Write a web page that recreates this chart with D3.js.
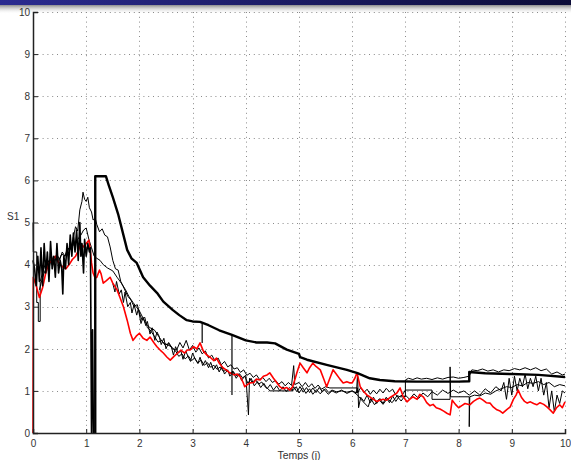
<!DOCTYPE html>
<html lang="fr">

<head>
	<meta charset="UTF-8">
	<script src="https://d3js.org/d3.v7.min.js"></script>
	<title>S1 - Temps</title>
	<style>
		body {
			margin: 0;
			background: white;
			font-family: "Liberation Sans", Arial, sans-serif;
		}

		svg {
			display: block;
		}

		.grid line {
			stroke: #8a8a8a;
			stroke-width: 1px;
			stroke-dasharray: 1, 3.8;
		}

		.tick-label {
			font-size: 10px;
			fill: #333;
		}

		path.serie {
			fill: none;
			stroke-linejoin: round;
		}
	</style>
</head>

<body>
	<script>
		// axis ticks (same 0..10 on both axes)
		const xTicks = [0, 1, 2, 3, 4, 5, 6, 7, 8, 9, 10];
		const yTicks = [0, 1, 2, 3, 4, 5, 6, 7, 8, 9, 10];

		// thick black curve : [temps, S1]
		const serieA = [[1.17, 0], [1.17, 6.1], [1.37, 6.1], [1.42, 5.9], [1.5, 5.6], [1.6, 5.2], [1.7, 4.7],
			[1.77, 4.35], [1.85, 4.15], [1.95, 4.04], [2.07, 3.7], [2.2, 3.5], [2.33, 3.33], [2.45, 3.12],
			[2.63, 2.92], [2.75, 2.8], [2.89, 2.68], [3.0, 2.65], [3.14, 2.64], [3.3, 2.56], [3.5, 2.44],
			[3.74, 2.33], [4.0, 2.2], [4.2, 2.15], [4.4, 2.15], [4.55, 2.13], [4.77, 1.98], [5.0, 1.88],
			[5.02, 1.8], [5.15, 1.74], [5.52, 1.62], [5.9, 1.5], [6.1, 1.42], [6.33, 1.3], [6.52, 1.26],
			[6.8, 1.23], [7.2, 1.22], [7.6, 1.22], [8.0, 1.22], [8.2, 1.23], [8.2, 1.45], [8.5, 1.42],
			[9.0, 1.4], [9.5, 1.38], [10, 1.33]];

		// thin glitches hanging under the thick curve
		const piquesA = [[[3.18, 2.63], [3.18, 2.14]], [[3.74, 2.33], [3.74, 0.9]]];

		// noisy black curve at the start (drops to 0 near t = 1.1)
		const serieD = [[0, 4.1], [0.03, 3.9], [0.06, 3.5], [0.09, 4.2], [0.12, 3.6], [0.15, 4.4], [0.18, 3.5],
			[0.21, 4.5], [0.24, 3.8], [0.27, 4.3], [0.3, 3.6], [0.33, 4.55], [0.36, 3.9], [0.39, 4.2], [0.42, 3.7],
			[0.45, 4.5], [0.48, 3.8], [0.51, 4.1], [0.54, 3.9], [0.56, 3.3], [0.58, 4.2], [0.61, 3.9], [0.64, 4.5],
			[0.67, 4.0], [0.7, 4.7], [0.73, 4.2], [0.76, 4.75], [0.79, 4.3], [0.82, 4.82], [0.85, 4.1], [0.88, 5.0],
			[0.9, 4.2], [0.92, 4.5], [0.95, 3.8], [0.97, 4.6], [1.0, 4.2], [1.03, 4.5], [1.06, 4.3], [1.08, 4.4],
			[1.1, 0], [1.12, 2.45], [1.135, 0]];

		// thin black curve with the 5.7 peak
		const serieB = [[0, 5.0], [0.005, 4.3], [0.07, 4.3], [0.07, 3.1], [0.1, 3.1], [0.1, 2.65], [0.135, 2.65],
			[0.135, 3.6], [0.18, 3.8], [0.25, 4.1], [0.3, 3.9], [0.35, 4.2], [0.4, 4.0], [0.45, 4.25], [0.5, 4.1],
			[0.55, 4.3], [0.6, 4.2], [0.65, 4.4], [0.7, 4.35], [0.75, 4.6], [0.8, 4.9], [0.84, 4.8], [0.88, 5.3],
			[0.92, 5.5], [0.94, 5.72], [0.97, 5.55], [1.0, 5.5], [1.03, 5.6], [1.06, 5.35], [1.1, 5.25], [1.13, 5.06],
			[1.17, 5.1], [1.2, 4.95], [1.25, 4.78], [1.3, 4.85], [1.35, 4.7], [1.4, 4.66], [1.45, 4.42], [1.5, 4.1],
			[1.55, 3.9], [1.6, 3.87], [1.65, 3.6], [1.7, 3.47], [1.78, 3.25], [1.84, 3.16], [1.9, 3.0], [1.96, 3.05],
			[2.0, 2.85], [2.05, 2.68], [2.1, 2.75], [2.15, 2.5], [2.2, 2.45], [2.28, 2.3], [2.35, 2.16], [2.42, 2.2],
			[2.48, 2.09], [2.55, 2.12], [2.62, 2.0], [2.7, 1.97], [2.76, 2.15], [2.82, 2.02], [2.88, 2.2], [2.94, 1.97],
			[3.0, 2.08], [3.06, 1.92], [3.12, 2.02], [3.18, 1.88], [3.24, 1.95], [3.3, 1.78], [3.36, 1.85], [3.42, 1.72],
			[3.48, 1.78], [3.54, 1.62], [3.6, 1.7], [3.66, 1.57], [3.72, 1.62], [3.78, 1.52], [3.84, 1.55], [3.9, 1.44],
			[3.96, 1.5], [4.02, 1.37], [4.08, 1.42], [4.14, 1.32], [4.2, 1.38], [4.26, 1.27], [4.32, 1.32], [4.38, 1.22],
			[4.44, 1.3], [4.5, 1.2], [4.56, 1.25], [4.62, 1.16], [4.68, 1.22], [4.74, 1.12], [4.8, 1.2], [4.86, 1.13],
			[4.9, 1.6], [4.92, 1.15], [5.0, 1.2], [5.06, 1.1], [5.12, 1.2], [5.18, 1.09], [5.24, 1.17], [5.3, 1.06],
			[5.36, 1.14], [5.42, 1.04], [5.5, 1.1], [5.58, 1.07], [6.1, 1.07], [6.1, 0.95], [6.16, 1.08], [6.22, 0.96],
			[6.28, 1.04], [6.34, 0.92], [6.4, 1.02], [6.46, 0.93], [6.52, 1.04], [6.58, 0.95], [6.64, 1.06], [6.7, 0.98],
			[6.76, 1.04], [6.82, 0.9], [6.9, 0.86], [7.0, 0.86], [7.0, 1.26], [7.06, 1.3], [7.14, 1.27], [7.22, 1.31],
			[7.3, 1.28], [7.4, 1.3], [7.5, 1.27], [7.6, 1.31], [7.7, 1.28], [7.8, 1.32], [7.9, 1.33], [8.0, 1.3],
			[8.1, 1.32], [8.2, 1.35], [8.25, 1.5], [8.35, 1.48], [8.45, 1.52], [8.55, 1.47], [8.65, 1.5], [8.75, 1.45],
			[8.85, 1.5], [8.95, 1.48], [9.05, 1.53], [9.15, 1.5], [9.25, 1.55], [9.35, 1.5], [9.45, 1.55], [9.55, 1.48],
			[9.65, 1.52], [9.75, 1.4], [9.85, 1.45], [9.95, 1.38], [10, 1.4]];

		// thin black curve with the 4.9 peak
		const serieC = [[0.12, 3.4], [0.18, 3.7], [0.24, 3.9], [0.3, 4.1], [0.36, 4.0], [0.42, 4.15], [0.48, 4.1],
			[0.54, 4.25], [0.6, 4.2], [0.66, 4.35], [0.72, 4.4], [0.78, 4.5], [0.84, 4.6], [0.9, 4.7], [0.95, 4.82],
			[1.0, 4.87], [1.05, 4.6], [1.1, 4.4], [1.15, 4.2], [1.2, 4.15], [1.26, 4.1], [1.32, 4.0], [1.4, 3.92],
			[1.5, 3.85], [1.58, 3.7], [1.66, 3.56], [1.74, 3.4], [1.8, 3.25], [1.88, 3.1], [1.94, 3.0], [2.0, 2.9],
			[2.06, 2.75], [2.12, 2.6], [2.2, 2.5], [2.28, 2.45], [2.36, 2.3], [2.44, 2.15], [2.52, 2.1], [2.6, 2.05],
			[2.68, 1.95], [2.74, 1.82], [2.8, 1.88], [2.86, 1.76], [2.92, 1.83], [2.98, 1.72], [3.04, 1.78], [3.1, 1.66],
			[3.16, 1.73], [3.22, 1.61], [3.28, 1.67], [3.34, 1.56], [3.4, 1.61], [3.46, 1.51], [3.52, 1.57], [3.58, 1.46],
			[3.64, 1.51], [3.7, 1.41], [3.76, 1.47], [3.82, 1.36], [3.88, 1.41], [3.94, 1.31], [4.0, 1.37], [4.05, 0.43],
			[4.07, 1.3], [4.12, 1.2], [4.18, 1.27], [4.24, 1.16], [4.3, 1.21], [4.36, 1.1], [4.42, 1.05], [4.45, 1.0],
			[4.87, 1.0], [4.9, 1.1], [4.96, 0.98], [5.02, 1.1], [5.08, 0.97], [5.14, 1.08], [5.2, 0.96], [5.26, 1.07],
			[5.32, 0.96], [5.38, 1.08], [5.44, 0.98], [5.5, 1.05], [5.56, 0.96], [5.62, 1.02], [5.7, 0.98], [5.8, 1.0],
			[5.9, 0.97], [6.0, 1.0], [6.08, 0.95], [6.1, 1.4], [6.12, 0.6], [6.16, 0.85], [6.22, 0.75], [6.28, 0.9],
			[6.34, 0.72], [6.4, 0.85], [6.46, 0.7], [6.52, 0.82], [6.58, 0.7], [6.64, 0.85], [6.7, 0.72], [6.76, 0.88],
			[6.82, 0.75], [6.88, 0.86], [6.94, 0.9], [7.0, 1.02], [7.5, 1.02], [7.5, 0.8], [7.84, 0.8], [7.84, 1.57],
			[7.85, 0.86], [8.2, 0.86], [8.2, 0.15], [8.21, 0.86], [8.3, 0.9], [8.4, 0.88], [8.5, 0.95], [8.6, 0.92],
			[8.7, 1.0], [8.8, 1.05], [8.9, 1.1], [9.0, 1.08], [9.1, 1.15], [9.2, 1.12], [9.3, 1.2], [9.4, 1.18],
			[9.5, 1.22], [9.6, 1.15], [9.7, 1.2], [9.8, 1.1], [9.9, 1.15], [10, 1.12]];

		// third thin black curve, the noisiest one
		const serieE = [[1.5, 3.55], [1.54, 3.35], [1.57, 3.6], [1.62, 3.3], [1.66, 3.4], [1.7, 3.1], [1.73, 3.35],
			[1.78, 3.0], [1.83, 3.1], [1.86, 2.85], [1.9, 3.05], [1.95, 2.8], [1.98, 2.95], [2.03, 2.6], [2.07, 2.75],
			[2.12, 2.55], [2.15, 2.65], [2.2, 2.35], [2.24, 2.5], [2.29, 2.2], [2.33, 2.4], [2.37, 2.3], [2.41, 2.1],
			[2.46, 2.25], [2.5, 2.0], [2.55, 2.15], [2.6, 2.05], [2.64, 1.85], [2.68, 2.05], [2.73, 1.9], [2.78, 1.95],
			[2.82, 1.75], [2.87, 1.95], [2.92, 1.8], [2.96, 1.7], [3.0, 1.9], [3.05, 1.75], [3.1, 1.65], [3.14, 1.8],
			[3.19, 1.6], [3.24, 1.72], [3.3, 1.55], [3.34, 1.68], [3.39, 1.5], [3.45, 1.62], [3.5, 1.45], [3.55, 1.58],
			[3.6, 1.4], [3.66, 1.5], [3.7, 1.35], [3.76, 1.45], [3.82, 1.3], [3.87, 1.4], [3.92, 1.25], [3.98, 1.35],
			[4.04, 1.18], [4.1, 1.3], [4.16, 1.12], [4.22, 1.22], [4.28, 1.08], [4.34, 1.18], [4.4, 1.05], [4.46, 1.15],
			[4.52, 1.02], [4.58, 1.12], [4.64, 1.0], [4.7, 1.1], [4.76, 0.98], [4.82, 1.08], [4.88, 1.0], [4.95, 1.1],
			[5.0, 0.95], [5.07, 1.08], [5.13, 0.94], [5.2, 1.05], [5.26, 0.92], [5.33, 1.03], [5.4, 0.93], [5.47, 1.04],
			[5.55, 0.92], [5.62, 1.0], [5.7, 0.95], [5.8, 1.02], [5.9, 0.94], [6.0, 1.0], [6.1, 0.9], [6.2, 0.75],
			[6.3, 0.62], [6.35, 0.82], [6.42, 0.67], [6.5, 0.8], [6.58, 0.68], [6.66, 0.82], [6.75, 0.72], [6.84, 0.88],
			[6.92, 0.76], [7.0, 0.9], [7.08, 0.8], [7.16, 0.93], [7.25, 0.82], [7.33, 0.95], [7.42, 0.86], [7.5, 0.98],
			[7.6, 0.9], [7.7, 1.02], [7.8, 0.94], [7.9, 1.02], [8.0, 0.95], [8.1, 1.0], [8.2, 0.9], [8.3, 1.0],
			[8.4, 0.9], [8.5, 1.05], [8.6, 0.95], [8.7, 1.1], [8.8, 1.0], [8.85, 1.2], [8.9, 0.8], [8.95, 1.3],
			[9.0, 0.9], [9.05, 1.35], [9.1, 1.0], [9.15, 1.3], [9.2, 1.1], [9.25, 1.4], [9.3, 1.05], [9.35, 1.3],
			[9.4, 1.1], [9.45, 1.35], [9.5, 1.0], [9.55, 1.3], [9.6, 0.9], [9.65, 1.2], [9.7, 0.6], [9.75, 1.0],
			[9.8, 0.5], [9.85, 0.9], [9.9, 0.7], [9.95, 1.0], [10, 0.95]];

		// red curve
		const serieRouge = [[0, 0], [0.005, 3.7], [0.06, 3.5], [0.12, 3.22], [0.18, 3.45], [0.24, 3.8], [0.3, 4.04],
			[0.36, 4.1], [0.42, 4.2], [0.48, 4.05], [0.55, 3.95], [0.62, 3.9], [0.68, 4.0], [0.74, 4.12], [0.8, 4.2],
			[0.86, 4.35], [0.9, 4.5], [0.95, 4.42], [1.0, 4.5], [1.05, 4.58], [1.08, 4.3], [1.1, 4.04], [1.13, 3.8],
			[1.17, 3.68], [1.2, 3.7], [1.25, 3.87], [1.28, 3.78], [1.32, 3.56], [1.38, 3.62], [1.45, 3.7], [1.5, 3.56],
			[1.58, 3.4], [1.64, 3.2], [1.7, 3.0], [1.77, 2.68], [1.83, 2.37], [1.88, 2.2], [1.94, 2.3], [2.0, 2.37],
			[2.07, 2.25], [2.14, 2.2], [2.2, 2.28], [2.27, 2.15], [2.33, 2.05], [2.39, 1.97], [2.45, 1.9], [2.52, 1.8],
			[2.58, 1.73], [2.65, 1.82], [2.72, 1.9], [2.78, 1.97], [2.85, 1.9], [2.9, 1.97], [2.95, 1.97], [3.02, 2.05],
			[3.08, 2.0], [3.14, 2.14], [3.2, 1.95], [3.27, 1.85], [3.33, 1.8], [3.4, 1.72], [3.45, 1.78], [3.5, 1.66],
			[3.57, 1.55], [3.63, 1.5], [3.7, 1.43], [3.78, 1.38], [3.84, 1.4], [3.9, 1.33], [3.95, 1.2], [3.98, 1.1],
			[4.03, 1.15], [4.08, 1.19], [4.15, 1.2], [4.2, 1.28], [4.27, 1.26], [4.33, 1.35], [4.4, 1.38], [4.45, 1.43],
			[4.52, 1.3], [4.58, 1.2], [4.64, 1.1], [4.7, 1.05], [4.77, 1.08], [4.83, 1.02], [4.88, 1.1], [4.93, 1.3],
			[4.96, 1.43], [5.02, 1.66], [5.08, 1.55], [5.15, 1.43], [5.2, 1.55], [5.26, 1.66], [5.32, 1.58], [5.4, 1.5],
			[5.46, 1.3], [5.52, 1.1], [5.58, 1.3], [5.64, 1.5], [5.7, 1.4], [5.77, 1.28], [5.83, 1.19], [5.9, 1.22],
			[5.96, 1.19], [6.0, 1.19], [6.05, 1.3], [6.09, 1.43], [6.15, 1.1], [6.22, 0.98], [6.28, 0.9], [6.33, 0.86],
			[6.4, 0.8], [6.46, 0.75], [6.52, 0.78], [6.58, 0.8], [6.65, 0.78], [6.72, 0.85], [6.78, 0.9], [6.84, 0.95],
			[6.9, 1.07], [6.96, 0.86], [7.03, 0.74], [7.08, 0.8], [7.14, 0.86], [7.22, 0.8], [7.27, 0.92], [7.34, 0.85],
			[7.4, 0.72], [7.46, 0.65], [7.52, 0.68], [7.58, 0.6], [7.65, 0.57], [7.72, 0.52], [7.78, 0.47], [7.84, 0.43],
			[7.88, 0.78], [7.94, 0.68], [8.0, 0.6], [8.06, 0.65], [8.12, 0.7], [8.21, 0.67], [8.28, 0.75], [8.34, 0.8],
			[8.4, 0.83], [8.46, 0.78], [8.52, 0.72], [8.59, 0.71], [8.65, 0.62], [8.72, 0.55], [8.78, 0.52], [8.83, 0.47],
			[8.9, 0.55], [8.97, 0.62], [9.03, 0.8], [9.08, 0.9], [9.12, 1.02], [9.18, 0.85], [9.24, 0.75], [9.29, 0.71],
			[9.35, 0.74], [9.41, 0.7], [9.47, 0.67], [9.53, 0.72], [9.6, 0.68], [9.66, 0.62], [9.72, 0.55], [9.78, 0.47],
			[9.84, 0.6], [9.9, 0.67], [9.95, 0.6], [10, 0.74]];

		const width = 571;
		const height = 460;

		const svg = d3.select("body").append("svg")
			.attr("width", width)
			.attr("height", height);

		/*-------------------------------------------------------*/
		/*-------------- slide header (blue bar) ----------------*/
		/*-------------------------------------------------------*/
		const defs = svg.append("defs");
		const blue = defs.append("linearGradient").attr("id", "blueBar");
		blue.append("stop").attr("offset", "0%").attr("stop-color", "#2b2b90");
		blue.append("stop").attr("offset", "100%").attr("stop-color", "#0c0c38");
		const shade = defs.append("linearGradient").attr("id", "shade")
			.attr("x1", 0).attr("y1", 0).attr("x2", 0).attr("y2", 1);
		shade.append("stop").attr("offset", "0%").attr("stop-color", "#8c8c8c");
		shade.append("stop").attr("offset", "100%").attr("stop-color", "#ffffff").attr("stop-opacity", 0);

		svg.append("rect").attr("x", 0).attr("y", 5).attr("width", width).attr("height", 9)
			.attr("fill", "url(#shade)");
		svg.append("rect").attr("x", 0).attr("y", 0).attr("width", width).attr("height", 5)
			.attr("fill", "url(#blueBar)");

		/*-------------------------------------------------------*/
		/*---------------------- scales -------------------------*/
		/*-------------------------------------------------------*/
		const x = d3.scaleLinear().domain([0, 10]).range([33, 565]);
		const y = d3.scaleLinear().domain([0, 10]).range([433, 12]);

		// dotted grid
		const grid = svg.append("g").attr("class", "grid");
		grid.selectAll(".gx").data(xTicks.slice(1)).enter().append("line")
			.attr("x1", d => Math.round(x(d)) + 0.5).attr("x2", d => Math.round(x(d)) + 0.5)
			.attr("y1", y(10)).attr("y2", y(0));
		grid.selectAll(".gy").data(yTicks.slice(1)).enter().append("line")
			.attr("y1", d => Math.round(y(d)) + 0.5).attr("y2", d => Math.round(y(d)) + 0.5)
			.attr("x1", x(0)).attr("x2", x(10));

		/*-------------------------------------------------------*/
		/*---------------------- curves -------------------------*/
		/*-------------------------------------------------------*/
		const line = d3.line().x(d => x(d[0])).y(d => y(d[1]));

		const series = [
			{ data: serieE, color: "#000", w: 1 },
			{ data: serieC, color: "#000", w: 1 },
			{ data: serieB, color: "#000", w: 1 },
			{ data: serieRouge, color: "#ff0000", w: 1.6 },
			{ data: serieD, color: "#000", w: 1.6 },
			{ data: serieA, color: "#000", w: 2.4 }
		].concat(piquesA.map(p => ({ data: p, color: "#000", w: 1.2 })));

		svg.selectAll("path.serie")
			.data(series)
			.enter()
			.append("path")
			.attr("class", "serie")
			.attr("d", d => line(d.data))
			.attr("stroke", d => d.color)
			.attr("stroke-width", d => d.w);

		/*-------------------------------------------------------*/
		/*---------------------- axes ---------------------------*/
		/*-------------------------------------------------------*/
		const xAxis = d3.axisBottom(x).tickValues(xTicks).tickSize(-4).tickPadding(7).tickFormat(d3.format("d"));
		const yAxis = d3.axisLeft(y).tickValues(yTicks).tickSize(-5).tickPadding(3).tickFormat(d3.format("d"));

		const gx = svg.append("g").attr("transform", `translate(0,${y(0)})`).call(xAxis);
		const gy = svg.append("g").attr("transform", `translate(${x(0)},0)`).call(yAxis);
		[gx, gy].forEach(g => {
			g.select(".domain").attr("stroke", "#222").attr("stroke-width", 1.5);
			g.selectAll(".tick line").attr("stroke", "#222");
			g.selectAll(".tick text")
				.attr("class", "tick-label")
				.style("font-family", "'Liberation Sans', Arial, sans-serif");
		});

		// axis titles
		svg.append("text")
			.attr("x", 7).attr("y", 220)
			.attr("class", "tick-label")
			.text("S1");
		svg.append("text")
			.attr("x", (x(0) + x(10)) / 2).attr("y", 459)
			.attr("text-anchor", "middle")
			.attr("class", "tick-label")
			.style("font-size", "10.5px")
			.text("Temps (j)");
	</script>
</body>

</html>
